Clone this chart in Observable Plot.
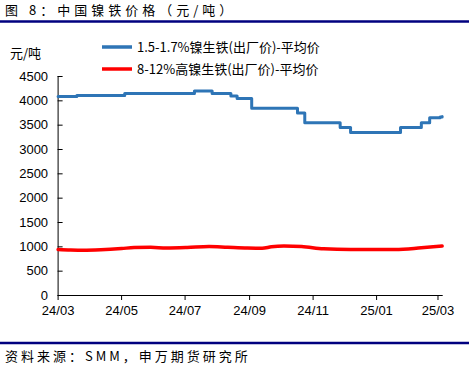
<!DOCTYPE html>
<html><head><meta charset="utf-8">
<script src="https://cdn.jsdelivr.net/npm/d3@7"></script>
<script src="https://cdn.jsdelivr.net/npm/@observablehq/plot@0.6"></script>
<style>body{margin:0;background:#fff;}</style>
</head><body><div id="chart"></div>
<script>
const title = "图 8：中国镍铁价格（元/吨）";
const source = "资料来源：SMM，申万期货研究所";
const yUnit = "元/吨";
const seriesNames = ["1.5-1.7%镍生铁(出厂价)-平均价", "8-12%高镍生铁(出厂价)-平均价"];
const seriesColors = ["#2E75B6", "#FF0000"];
const yTicks = [0, 500, 1000, 1500, 2000, 2500, 3000, 3500, 4000, 4500];
const xTickDates = ["2024-03-01", "2024-05-01", "2024-07-01", "2024-09-01", "2024-11-01", "2025-01-01", "2025-03-01"];

const blueDates = ["2024-03-01","2024-03-19","2024-05-04","2024-07-10","2024-07-27","2024-08-14","2024-08-20","2024-09-03","2024-10-17","2024-10-24","2024-11-27","2024-12-07","2025-01-24","2025-02-13","2025-02-21","2025-03-03","2025-03-05"];
const blueValues = [4090, 4110, 4150, 4200, 4150, 4100, 4050, 3850, 3750, 3550, 3450, 3350, 3450, 3550, 3650, 3670, 3680];

const redDates = ["2024-03-01","2024-03-13","2024-03-25","2024-04-11","2024-05-01","2024-05-13","2024-05-29","2024-06-13","2024-07-03","2024-07-24","2024-08-11","2024-08-30","2024-09-13","2024-09-22","2024-10-04","2024-10-21","2024-11-11","2024-12-07","2025-01-01","2025-01-19","2025-02-13","2025-03-05"];
const redValues = [945, 935, 930, 940, 965, 985, 990, 975, 985, 1005, 990, 975, 970, 1000, 1015, 1005, 960, 945, 945, 945, 980, 1015];

const parse = d3.utcParse("%Y-%m-%d");
const blue = blueDates.map((d, i) => ({date: parse(d), value: blueValues[i]}));
const red = redDates.map((d, i) => ({date: parse(d), value: redValues[i]}));
const xStart = parse("2024-03-01"), xEnd = parse("2025-03-06");

const chart = Plot.plot({
  width: 469, height: 370,
  marginLeft: 57.6, marginRight: 26.3, marginTop: 76, marginBottom: 75,
  style: {fontFamily: "'Liberation Sans', Arial, 'Noto Sans CJK SC', sans-serif", fontSize: "13px", color: "#000", background: "#fff"},
  x: {type: "utc", domain: [xStart, xEnd], label: null},
  y: {domain: [0, 4500], label: null},
  marks: [
    Plot.axisX({ticks: xTickDates.map(parse), tickFormat: d3.utcFormat("%y/%m"), tickSize: 5, tickPadding: 5, label: null, stroke: "#000", fill: "#000"}),
    Plot.axisY({ticks: yTicks, tickFormat: d3.format("d"), tickSize: -5, tickPadding: 15, label: null, stroke: "#000", fill: "#000"}),
    Plot.ruleY([0], {stroke: "#000", strokeWidth: 1}),
    Plot.ruleX([xStart], {stroke: "#000", strokeWidth: 1}),
    Plot.line(red, {x: "date", y: "value", stroke: seriesColors[1], strokeWidth: 3.5, curve: "monotone-x"}),
    Plot.line(blue, {x: "date", y: "value", stroke: seriesColors[0], strokeWidth: 3, curve: "step-after"})
  ]
});

const svg = d3.select(chart);
const cjk = "'Noto Sans CJK SC', 'Liberation Sans', sans-serif";
const addText = (x, y, str, spacing) => svg.append("text").attr("x", x).attr("y", y)
  .attr("font-family", cjk).attr("font-size", 13).attr("text-anchor", "start")
  .attr("letter-spacing", spacing || 0).attr("fill", "#000").text(str);
addText(5, 15, title, 4);
svg.append("line").attr("x1", 0).attr("x2", 469).attr("y1", 21.5).attr("y2", 21.5)
  .attr("stroke", "#00007F").attr("stroke-width", 2.5);
svg.append("line").attr("x1", 0).attr("x2", 469).attr("y1", 343).attr("y2", 343)
  .attr("stroke", "#00007F").attr("stroke-width", 2.5);
addText(5, 361, source, 3);
addText(10, 58, yUnit, 0);
seriesNames.forEach((name, i) => {
  const y = 47 + i * 22;
  svg.append("line").attr("x1", 102).attr("x2", 132).attr("y1", y).attr("y2", y)
    .attr("stroke", seriesColors[i]).attr("stroke-width", 3.5);
  addText(137, y + 5, name, 0);
});
document.getElementById("chart").appendChild(chart);
</script>
</body></html>
